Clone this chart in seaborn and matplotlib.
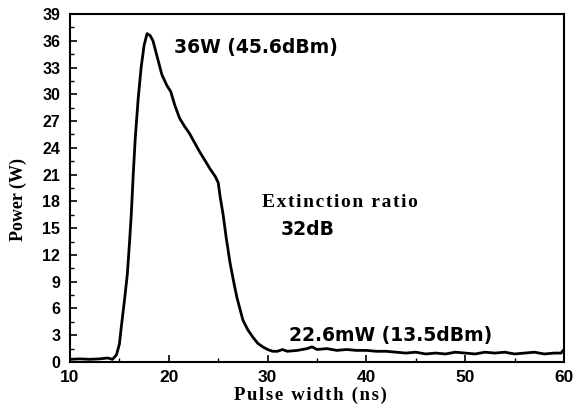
import matplotlib
matplotlib.use("Agg")
import matplotlib.pyplot as plt
import seaborn as sns
import pandas as pd
from matplotlib.ticker import MultipleLocator

# Data
pulse_ns = [10.0, 11.0, 12.0, 13.0, 13.8, 14.3, 14.7, 15.0, 15.2, 15.5, 15.8, 16.0,
            16.2, 16.4, 16.6, 16.9, 17.2, 17.5, 17.8, 18.1, 18.4, 18.8, 19.3, 19.8,
            20.2, 20.6, 21.1, 21.6, 22.1, 22.6, 23.1, 23.6, 24.2, 24.7, 25.0, 25.2,
            25.5, 25.8, 26.2, 26.6, 26.9, 27.5, 28.0, 28.5, 29.0, 29.5, 30.0, 30.5,
            31.0, 31.5, 32.0, 33.0, 34.0, 34.5, 35.0, 36.0, 37.0, 38.0, 39.0, 40.0,
            41.0, 42.0, 43.0, 44.0, 45.0, 46.0, 47.0, 48.0, 49.0, 50.0, 51.0, 52.0,
            53.0, 54.0, 55.0, 56.0, 57.0, 58.0, 59.0, 59.7, 60.0]
power_w = [0.3, 0.35, 0.3, 0.35, 0.45, 0.3, 0.8, 2.0, 4.0, 6.8, 9.8, 13.0,
           16.5, 21.0, 25.0, 29.5, 33.0, 35.5, 36.8, 36.6, 36.0, 34.3, 32.2, 31.0,
           30.3, 28.8, 27.3, 26.4, 25.6, 24.6, 23.6, 22.7, 21.6, 20.8, 20.1, 18.5,
           16.5, 14.0, 11.1, 8.8, 7.2, 4.7, 3.6, 2.8, 2.1, 1.7, 1.4, 1.2,
           1.2, 1.4, 1.2, 1.3, 1.5, 1.7, 1.4, 1.5, 1.3, 1.4, 1.3, 1.3,
           1.2, 1.2, 1.1, 1.0, 1.1, 0.9, 1.0, 0.9, 1.1, 1.0, 0.9, 1.1,
           1.0, 1.1, 0.9, 1.0, 1.1, 0.9, 1.0, 1.0, 1.4]

x_ticks = [10, 20, 30, 40, 50, 60]
y_ticks = [0, 3, 6, 9, 12, 15, 18, 21, 24, 27, 30, 33, 36, 39]

df = pd.DataFrame({"x": pulse_ns, "y": power_w})

sns.set_theme(style="white")
plt.rcParams["font.family"] = ["Liberation Sans", "DejaVu Sans"]
plt.rcParams["text.color"] = "black"
plt.rcParams["axes.labelcolor"] = "black"
plt.rcParams["xtick.color"] = "black"
plt.rcParams["ytick.color"] = "black"


def spaced(s, sep="\u200a"):
    return sep.join(s)


fig = plt.figure(figsize=(5.76, 4.13), dpi=100)
ax = fig.add_axes([70 / 576, 51 / 413, 494 / 576, 348 / 413])

sns.lineplot(data=df, x="x", y="y", ax=ax, color="black", linewidth=2.0,
             estimator=None, sort=False)

ax.set_xlim(10, 60)
ax.set_ylim(0, 39)
ax.set_xticks(x_ticks)
ax.set_yticks(y_ticks)
ax.xaxis.set_minor_locator(MultipleLocator(5))
ax.yaxis.set_minor_locator(MultipleLocator(1.5))
ax.tick_params(axis="both", which="major", direction="in", length=5, width=1.2,
               color="black", labelcolor="black",
               bottom=True, left=True, top=False, right=False)
ax.tick_params(axis="both", which="minor", direction="in", length=3, width=1.0,
               color="black", bottom=True, left=True, top=False, right=False)
ax.tick_params(axis="x", which="major", labelsize=12.5, pad=6)
ax.tick_params(axis="y", which="major", labelsize=11.5, pad=7)
for lab in ax.get_xticklabels() + ax.get_yticklabels():
    lab.set_fontweight("bold")
for sp in ax.spines.values():
    sp.set_color("black")
    sp.set_linewidth(1.5)

ax.set_xlabel(spaced("Pulse width (ns)"), fontsize=13.5, fontweight="bold",
              family=["Liberation Serif", "DejaVu Serif"], color="black")
ax.xaxis.set_label_coords(0.486, -0.072)
ax.set_ylabel("Power (W)", fontsize=13, fontweight="bold",
              family=["Liberation Serif", "DejaVu Serif"], color="black")
ax.yaxis.set_label_coords(-0.088, 0.468)

ax.text(20.5, 35.2, "36W (45.6dBm)", fontsize=13.5, fontweight="bold",
        family="DejaVu Sans", ha="left", va="center", color="black")
ax.text(29.4, 17.9, spaced("Extinction ratio"), fontsize=14, fontweight="bold",
        family=["Liberation Serif", "DejaVu Serif"], ha="left", va="center",
        color="black")
ax.text(31.3, 14.8, "32dB", fontsize=13.5, fontweight="bold",
        family="DejaVu Sans", ha="left", va="center", color="black")
ax.text(32.2, 3.0, "22.6mW (13.5dBm)", fontsize=13.5, fontweight="bold",
        family="DejaVu Sans", ha="left", va="center", color="black")

fig.savefig("out.png", dpi=100)
